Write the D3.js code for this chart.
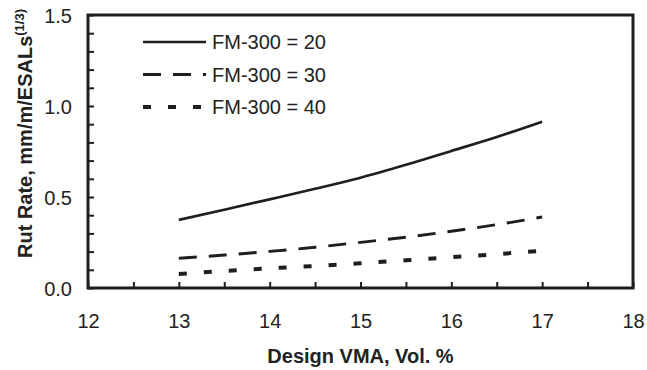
<!DOCTYPE html>
<html>
<head>
<meta charset="utf-8">
<script src="https://cdn.jsdelivr.net/npm/d3@7/dist/d3.min.js"></script>
<style>
  html, body { margin: 0; padding: 0; background: #fff; }
  svg { display: block; font-family: "Liberation Sans", Arial, sans-serif; }
</style>
</head>
<body>
<svg id="chart" width="647" height="370"></svg>
<script>
// Design VMA (Vol. %) sample points
const vma = [13, 13.5, 14, 14.5, 15, 15.5, 16, 16.5, 17];
// Rut rate, mm/m/ESALs^(1/3), for each FM-300 level
const fm20 = [0.374, 0.430, 0.487, 0.545, 0.606, 0.677, 0.753, 0.830, 0.914];
const fm30 = [0.163, 0.181, 0.201, 0.224, 0.251, 0.279, 0.312, 0.348, 0.390];
const fm40 = [0.077, 0.093, 0.108, 0.121, 0.136, 0.152, 0.169, 0.186, 0.205];
const seriesNames = ["FM-300 = 20", "FM-300 = 30", "FM-300 = 40"];
const xTicks = [12, 13, 14, 15, 16, 17, 18];
const yTicks = [0.0, 0.5, 1.0, 1.5];

const series = [
  { name: seriesNames[0], values: fm20, dash: null, width: 2.7 },
  { name: seriesNames[1], values: fm30, dash: "18,12", width: 2.9 },
  { name: seriesNames[2], values: fm40, dash: "8,17", width: 4 }
];

const svg = d3.select("#chart");
const m = { left: 88, right: 633, top: 15, bottom: 288 };
const ink = "#1e1e1e";
const fs = 20;

const x = d3.scaleLinear().domain([12, 18]).range([m.left, m.right]);
const y = d3.scaleLinear().domain([0, 1.5]).range([m.bottom, m.top]);

// frame
svg.append("rect")
  .attr("x", m.left).attr("y", m.top)
  .attr("width", m.right - m.left).attr("height", m.bottom - m.top)
  .attr("fill", "none").attr("stroke", ink).attr("stroke-width", 3);

// x axis: inward ticks every 0.5
const xAxis = d3.axisBottom(x)
  .tickValues(d3.range(12, 18.01, 0.5))
  .tickSizeInner(-6).tickSizeOuter(0)
  .tickFormat(d => xTicks.includes(d) ? d3.format("d")(d) : "");
const gx = svg.append("g").attr("transform", `translate(0,${m.bottom})`).call(xAxis);
gx.select(".domain").remove();
gx.selectAll(".tick line").attr("stroke", ink).attr("stroke-width", 2);
gx.selectAll(".tick text")
  .attr("fill", "#222").attr("font-size", fs).attr("dy", 0).attr("y", 40);

// y axis: inward ticks every 0.1
const yAxis = d3.axisLeft(y)
  .tickValues(d3.range(0, 1.501, 0.1).map(v => +v.toFixed(1)))
  .tickSizeInner(-6).tickSizeOuter(0)
  .tickFormat(d => yTicks.includes(d) ? d3.format(".1f")(d) : "");
const gy = svg.append("g").attr("transform", `translate(${m.left},0)`).call(yAxis);
gy.select(".domain").remove();
gy.selectAll(".tick line").attr("stroke", ink).attr("stroke-width", 2);
gy.selectAll(".tick text")
  .attr("fill", "#222").attr("font-size", fs).attr("x", -16).attr("dy", "0.36em");

// series lines
const line = d3.line().x((d, i) => x(vma[i])).y(d => y(d)).curve(d3.curveMonotoneX);
series.forEach(s => {
  svg.append("path")
    .attr("d", line(s.values))
    .attr("fill", "none")
    .attr("stroke", ink)
    .attr("stroke-width", s.width)
    .attr("stroke-dasharray", s.dash);
});

// legend
const legend = svg.append("g");
series.forEach((s, i) => {
  const ly = 42 + i * 32.5;
  legend.append("line")
    .attr("x1", 143).attr("x2", 206).attr("y1", ly).attr("y2", ly)
    .attr("stroke", ink).attr("stroke-width", s.width)
    .attr("stroke-dasharray", s.dash);
  legend.append("text")
    .attr("x", 212).attr("y", ly).attr("dy", "0.36em")
    .attr("font-size", fs).attr("fill", "#222")
    .text(s.name);
});

// axis titles
svg.append("text")
  .attr("x", (m.left + m.right) / 2).attr("y", 363)
  .attr("text-anchor", "middle").attr("font-weight", "bold")
  .attr("font-size", fs).attr("fill", "#222")
  .text("Design VMA, Vol. %");

const yt = svg.append("text")
  .attr("transform", "translate(32,258) rotate(-90)")
  .attr("text-anchor", "start").attr("font-weight", "bold")
  .attr("font-size", fs).attr("fill", "#222");
yt.append("tspan").text("Rut Rate, mm/m/ESALs");
yt.append("tspan").attr("dy", -8).attr("font-size", 13).text("(1/3)");
</script>
</body>
</html>
